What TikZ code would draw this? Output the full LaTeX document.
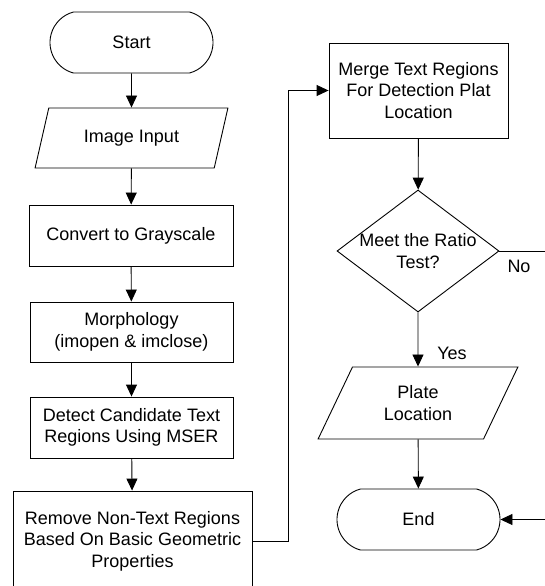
\documentclass[tikz,border=0pt]{standalone}
\usepackage{fontspec}
\setmainfont{Liberation Sans}
\usetikzlibrary{shapes.geometric,shapes.misc,arrows.meta}
\begin{document}
\begin{tikzpicture}[x=1pt,y=-1pt,
  every node/.style={font=\fontsize{18}{21.5}\selectfont, align=center, inner sep=0pt, draw=black, line width=0.9pt},
  procbox/.style={rectangle},
  termbox/.style={rounded rectangle, rounded rectangle arc length=150},
  iobox/.style={trapezium, trapezium stretches=true},
  decbox/.style={diamond, aspect=1.33},
  plain/.style={draw=none},
  arr/.style={line width=0.9pt, -{Triangle[length=12pt,width=11pt]}},
  ln/.style={line width=0.9pt}]
\useasboundingbox (0,0) rectangle (545,586);
\clip (0,0) rectangle (545,586);
\node[termbox, minimum width=163pt, minimum height=61pt] (start) at (131.5,42.5) {Start};
\node[iobox, trapezium left angle=64, trapezium right angle=116, minimum width=193pt, minimum height=60pt] (input) at (131.5,138) {Image Input};
\node[procbox, minimum width=204pt, minimum height=61pt] (gray) at (131,235.5) {Convert to Grayscale};
\node[procbox, minimum width=203pt, minimum height=60pt] (morph) at (131.5,332) {Morphology\\(imopen \& imclose)};
\node[procbox, minimum width=203pt, minimum height=61pt] (detect) at (131.5,427.5) {Detect Candidate Text\\Regions Using MSER};
\node[procbox, minimum width=239pt, minimum height=100pt] (remove) at (132.5,541) {Remove Non-Text Regions\\Based On Basic Geometric\\Properties};
\node[procbox, minimum width=179pt, minimum height=95pt] (merge) at (418.5,90.5) {Merge Text Regions\\For Detection Plat\\Location};
\node[decbox, minimum width=162pt, minimum height=122pt] (ratio) at (418,251) {};
\node[plain] (ratiotext) at (418,251) {Meet the Ratio\\Test?};
\node[iobox, trapezium left angle=62.8, trapezium right angle=117.2, minimum width=200pt, minimum height=72pt] (plate) at (418,403) {Plate\\Location};
\node[termbox, minimum width=163pt, minimum height=61pt] (end) at (418.5,519.5) {End};
\node[plain] (yes) at (452,353) {Yes};
\node[plain] (no) at (519,266) {No};
\coordinate (loop) at (288,0);
\coordinate (noend) at (545,251);
\coordinate (endin) at (545,519.5);
\draw[arr] (start) -- (input);
\draw[arr] (input) -- (gray);
\draw[arr] (gray) -- (morph);
\draw[arr] (morph) -- (detect);
\draw[arr] (detect) -- (remove);
\draw[arr] (remove.east) -| (loop |- merge.west) -- (merge.west);
\draw[arr] (merge) -- (ratio);
\draw[arr] (ratio.south) -- (plate.north);
\draw[arr] (plate) -- (end);
\draw[ln] (ratio.east) -- (noend);
\draw[arr] (endin) -- (end.east);
\end{tikzpicture}
\end{document}
